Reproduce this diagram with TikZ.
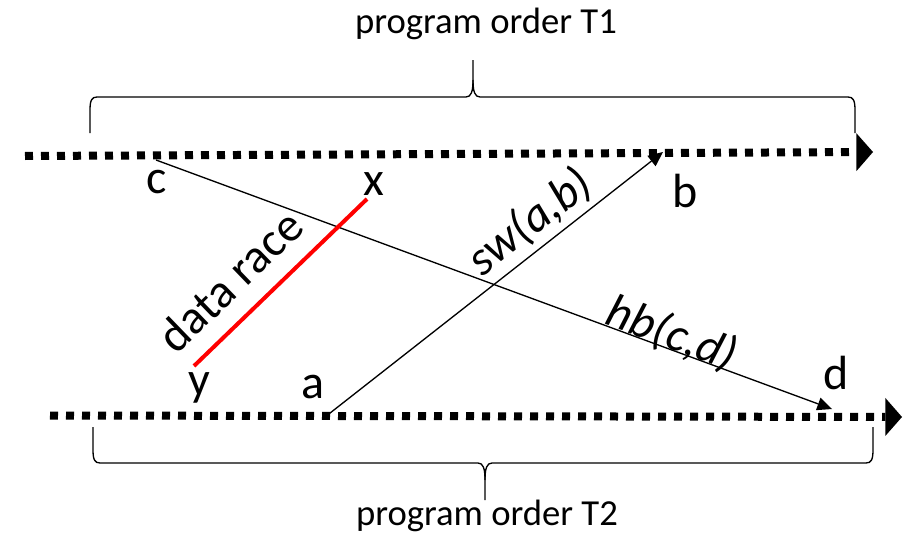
\documentclass[tikz,border=0pt]{standalone}
\usepackage{fontspec}
\setmainfont{Carlito}
\usetikzlibrary{arrows.meta}
\begin{document}
\begin{tikzpicture}[x=0.75pt,y=-0.75pt,
  timeline/.style={line width=6pt, dash pattern=on 6pt off 6pt,
    -{Triangle[length=12.5pt 0 0,width=28.5pt 0 0,line width=0pt]}},
  relation/.style={line width=1pt,
    -{Triangle[length=11pt 0 0,width=10pt 0 0,line width=0pt]}},
  racebar/.style={line width=3pt, red},
  brace/.style={line width=1pt},
  event/.style={font=\fontsize{36}{40}\selectfont, inner sep=0pt, anchor=base},
  caption/.style={font=\fontsize{27.5}{32}\selectfont, inner sep=0pt, anchor=base},
  edgelabel/.style={font=\fontsize{36}{40}\selectfont\itshape, inner sep=0pt},
  racelabel/.style={font=\fontsize{36}{40}\selectfont, inner sep=0pt},
]
\useasboundingbox (0,0) rectangle (915,546);

% thread timelines
\coordinate (t1s) at (25,156);
\coordinate (t1e) at (873,152);
\coordinate (t2s) at (50,415.5);
\coordinate (t2e) at (902,417);
\draw[timeline] (t1s) -- (t1e);
\draw[timeline] (t2s) -- (t2e);

% events on the timelines
\coordinate (c) at (156,160);
\coordinate (d) at (832,409);
\coordinate (a) at (325,417);
\coordinate (b) at (663,152);
\coordinate (x) at (367,199);
\coordinate (y) at (194,366);

% relations between events
\draw[relation] (c) -- (d);
\draw[relation] (a) -- (b);
\draw[racebar] (y) -- (x);

% event names
\node[event] (lc) at (157,193) {c};
\node[event] (lx) at (374,195) {x};
\node[event] (lb) at (685,207) {b};
\node[event] (ld) at (836,389) {d};
\node[event] (ly) at (199,395) {y};
\node[event] (la) at (313,398) {a};

% relation names
\node[edgelabel, rotate=38] (lsw) at (530,222) {sw(a,b)};
\node[edgelabel, rotate=-20.3] (lhb) at (672,334) {hb(c,d)};
\node[racelabel, rotate=44] (lrace) at (230,281) {data race};

% program order braces
\draw[brace] (90,133) -- (90,110) .. controls (90,100) and (92,97) .. (97,97)
  -- (466,97) .. controls (471,97) and (473,92) .. (473,80) -- (473,60);
\draw[brace] (473,80) .. controls (473,92) and (475,97) .. (480,97)
  -- (848,97) .. controls (853,97) and (855,100) .. (855,110) -- (855,133);
\draw[brace] (93,427) -- (93,450) .. controls (93,460) and (95,463) .. (100,463)
  -- (478,463) .. controls (483,463) and (485,468) .. (485,480) -- (485,500);
\draw[brace] (485,480) .. controls (485,468) and (487,463) .. (492,463)
  -- (866,463) .. controls (871,463) and (873,460) .. (873,450) -- (873,427);

\node[caption] (po1) at (486,33) {program order T1};
\node[caption] (po2) at (487,525) {program order T2};
\end{tikzpicture}
\end{document}
